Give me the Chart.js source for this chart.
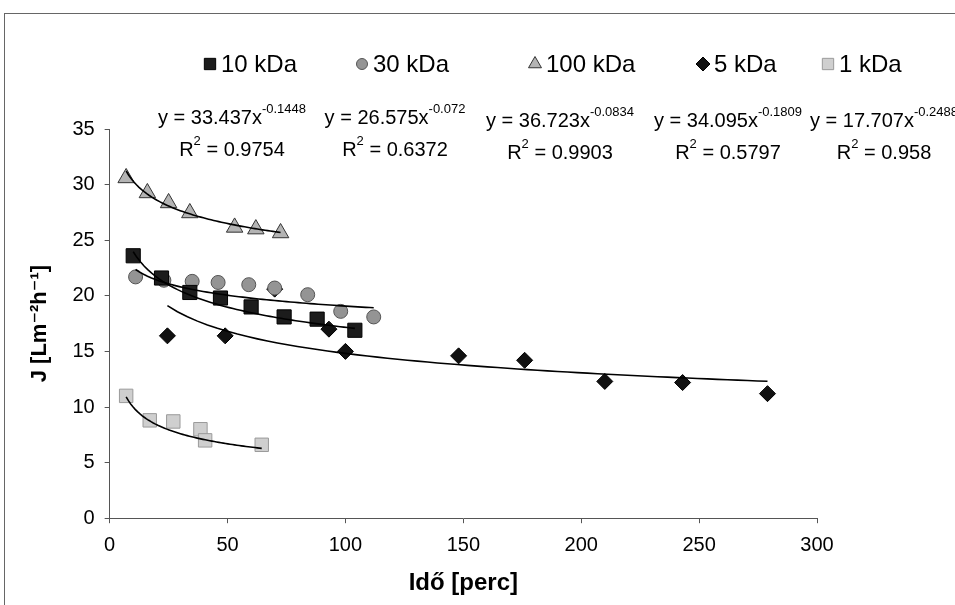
<!DOCTYPE html>
<html>
<head>
<meta charset="utf-8">
<script src="https://cdn.jsdelivr.net/npm/chart.js@4.4.0/dist/chart.umd.min.js"></script>
<style>
  html, body { margin: 0; padding: 0; background: #fff; }
  #wrap { position: relative; width: 955px; height: 605px; }
  #frame { position: absolute; left: 4px; top: 13px; right: 0; bottom: 0;
           border-top: 1px solid #666; border-left: 1px solid #666; pointer-events: none; }
</style>
</head>
<body>
<div id="wrap">
  <canvas id="fluxChart" width="955" height="605"></canvas>
  <div id="frame"></div>
</div>
<script>
// series names (legend order)
const seriesNames = ['10 kDa', '30 kDa', '100 kDa', '5 kDa', '1 kDa'];

// Idő [perc] and J values
const time10 = [10, 22, 34, 47, 60, 74, 88, 104];
const flux10 = [23.6, 21.6, 20.3, 19.8, 19.0, 18.1, 17.9, 16.9];

const time30 = [11, 23, 35, 46, 59, 70, 84, 98, 112];
const flux30 = [21.7, 21.4, 21.3, 21.2, 21.0, 20.7, 20.1, 18.6, 18.1];

const time100 = [7, 16, 25, 34, 53, 62, 72.5];
const flux100 = [30.6, 29.25, 28.35, 27.45, 26.15, 26.0, 25.65];

const time5 = [24.5, 49, 70, 93, 100, 148, 176, 210, 243, 279];
const flux5 = [16.4, 16.4, 20.6, 17.0, 15.0, 14.6, 14.2, 12.3, 12.2, 11.2];

const time1 = [7, 17, 27, 38.5, 40.5, 64.5];
const flux1 = [11.0, 8.8, 8.7, 8.0, 7.0, 6.6];

// power trendlines y = a * x^b printed on the chart
const fitA = [33.437, 26.575, 36.723, 34.095, 17.707];
const fitB = [-0.1448, -0.072, -0.0834, -0.1809, -0.2488];
const fitR2 = [0.9754, 0.6372, 0.9903, 0.5797, 0.958];

// axis ticks
const xTicks = [0, 50, 100, 150, 200, 250, 300];
const yTicks = [0, 5, 10, 15, 20, 25, 30, 35];

const FONT = '"Liberation Sans", Arial, "DejaVu Sans", sans-serif';

const times = [time10, time30, time100, time5, time1];
const fluxes = [flux10, flux30, flux100, flux5, flux1];

const markers = [
  { style: 'rect',    radius: 10,  fill: '#1c1c1c', border: '#000',    legendR: 8 },
  { style: 'circle',  radius: 7,   fill: '#949494', border: '#555',    legendR: 5.5 },
  { style: 'triangle',radius: 9.5, fill: '#b4b4b4', border: '#333',    legendR: 7.5 },
  { style: 'rectRot', radius: 8,   fill: '#111',    border: '#000',    legendR: 7 },
  { style: 'rect',    radius: 9.5, fill: '#cfcfcf', border: '#9a9a9a', legendR: 8 }
];

// points of each trendline, from the first to the last measured time
function fitPoints(i) {
  const lo = Math.min(...times[i]);
  const hi = Math.max(...times[i]);
  const pts = [];
  for (let k = 0; k <= 60; k++) {
    const x = lo + (hi - lo) * k / 60;
    pts.push({ x: x, y: fitA[i] * Math.pow(x, fitB[i]) });
  }
  return pts;
}

const datasets = [];
seriesNames.forEach((name, i) => {
  datasets.push({
    label: name,
    data: times[i].map((t, k) => ({ x: t, y: fluxes[i][k] })),
    pointStyle: markers[i].style,
    pointRadius: markers[i].radius,
    pointHoverRadius: markers[i].radius,
    backgroundColor: markers[i].fill,
    borderColor: markers[i].border,
    borderWidth: 1,
    showLine: false,
    order: 1
  });
});
seriesNames.forEach((name, i) => {
  datasets.push({
    label: 'fit ' + name,
    data: fitPoints(i),
    showLine: true,
    borderColor: '#000',
    borderWidth: 1.6,
    pointRadius: 0,
    fill: false,
    order: 0
  });
});

// legend and trendline equations drawn on top of the chart
const textPlugin = {
  id: 'textPlugin',
  afterDraw(chart) {
    const ctx = chart.ctx;
    ctx.save();
    ctx.fillStyle = '#000';
    ctx.textBaseline = 'middle';
    ctx.textAlign = 'left';

    // legend
    ctx.font = '24px ' + FONT;
    const legX = [210, 362, 535, 703, 828];
    const legY = 64;
    seriesNames.forEach((name, i) => {
      const m = markers[i];
      ctx.fillStyle = m.fill;
      ctx.strokeStyle = m.border;
      ctx.lineWidth = 1;
      Chart.helpers.drawPoint(ctx, { pointStyle: m.style, radius: m.legendR, borderWidth: 1, rotation: 0 }, legX[i], legY);
      ctx.fillStyle = '#000';
      ctx.fillText(name, legX[i] + 11, legY + 1);
    });

    // equations
    const eqX = [232, 395, 560, 728, 884];
    const eqY = [118, 118, 121, 121, 121];
    const size = 20;
    const small = 13;
    const big = size + 'px ' + FONT;
    const sm = small + 'px ' + FONT;
    seriesNames.forEach((name, i) => {
      const cx = eqX[i];
      const main = 'y = ' + fitA[i] + 'x';
      const sup = String(fitB[i]);
      ctx.font = big;
      const w1 = ctx.measureText(main).width;
      ctx.font = sm;
      const w2 = ctx.measureText(sup).width;
      let x0 = cx - (w1 + w2) / 2;
      ctx.font = big;
      ctx.fillText(main, x0, eqY[i]);
      ctx.font = sm;
      ctx.fillText(sup, x0 + w1, eqY[i] - 9);

      const r3 = ' = ' + fitR2[i];
      ctx.font = big;
      const a1 = ctx.measureText('R').width;
      const a3 = ctx.measureText(r3).width;
      ctx.font = sm;
      const a2 = ctx.measureText('2').width;
      x0 = cx - (a1 + a2 + a3) / 2;
      const ry = eqY[i] + 32;
      ctx.font = big;
      ctx.fillText('R', x0, ry);
      ctx.font = sm;
      ctx.fillText('2', x0 + a1, ry - 9);
      ctx.font = big;
      ctx.fillText(r3, x0 + a1 + a2, ry);
    });
    ctx.restore();
  }
};

const ctx = document.getElementById('fluxChart').getContext('2d');
const fluxChart = new Chart(ctx, {
  type: 'scatter',
  data: { datasets: datasets },
  options: {
    responsive: false,
    animation: false,
    layout: { padding: { left: 22, right: 138, top: 129, bottom: 5 } },
    scales: {
      x: {
        type: 'linear',
        min: 0,
        max: 300,
        afterBuildTicks: axis => { axis.ticks = xTicks.map(v => ({ value: v })); },
        ticks: { color: '#000', font: { size: 20, family: FONT }, padding: 10 },
        grid: { drawOnChartArea: false, tickLength: 5, color: '#555' },
        border: { color: '#555', width: 1 },
        title: {
          display: true,
          text: 'Idő [perc]',
          color: '#000',
          font: { size: 24, weight: 'bold', family: FONT },
          padding: { top: 2, bottom: 2 }
        }
      },
      y: {
        min: 0,
        max: 35,
        afterBuildTicks: axis => { axis.ticks = yTicks.map(v => ({ value: v })); },
        ticks: { color: '#000', font: { size: 20, family: FONT }, padding: 10 },
        grid: { drawOnChartArea: false, tickLength: 5, color: '#555' },
        border: { color: '#555', width: 1 },
        title: {
          display: true,
          text: 'J [Lm⁻²h⁻¹]',
          color: '#000',
          font: { size: 22, weight: 'bold', family: FONT },
          padding: { top: 5, bottom: 9 }
        }
      }
    },
    plugins: {
      legend: { display: false },
      tooltip: { enabled: false }
    }
  },
  plugins: [textPlugin]
});
</script>
</body>
</html>
